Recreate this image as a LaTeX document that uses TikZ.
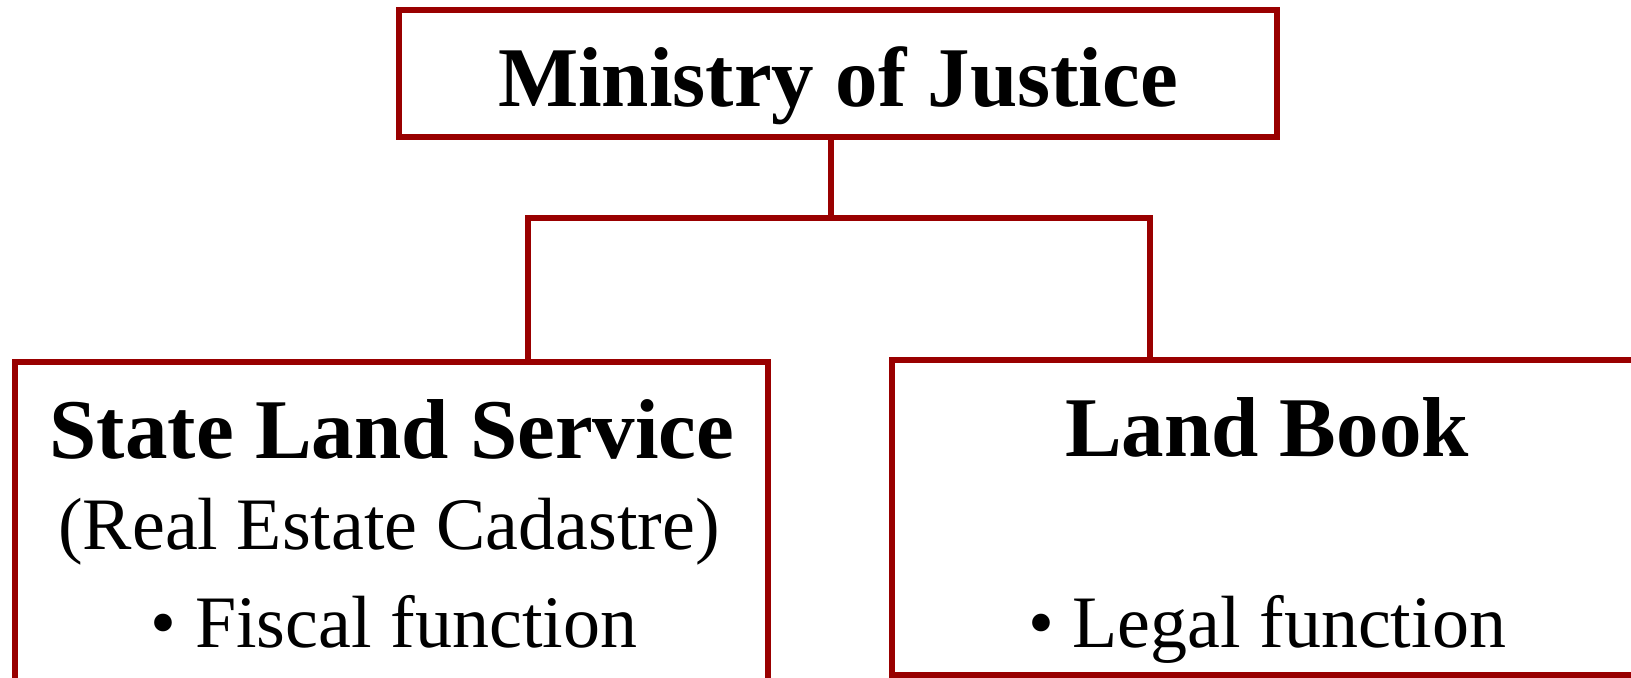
\documentclass[tikz,border=0pt]{standalone}
\usepackage{fontspec}
\setmainfont{Liberation Serif}
\definecolor{jred}{RGB}{153,0,0}
\tikzset{
  box/.style={draw=jred, line width=4.5pt, fill=white, inner sep=0pt, rectangle},
  conn/.style={draw=jred, line width=4.5pt},
  bigtxt/.style={anchor=base, inner sep=0pt, font=\fontsize{63.75}{76}\selectfont\bfseries},
  smalltxt/.style={anchor=base, inner sep=0pt, font=\fontsize{55.5}{66}\selectfont},
}
\begin{document}
\begin{tikzpicture}[x=0.75pt, y=-0.75pt]
\useasboundingbox (0,0) rectangle (1631,678);
\clip (0,0) rectangle (1631,678);
\fill[white] (0,0) rectangle (1631,678);
% boxes
\node[box, minimum width=878*0.75pt, minimum height=127*0.75pt] (top) at (838,73.5) {};
\node[box, minimum width=753*0.75pt, minimum height=339*0.75pt] (left) at (391.5,531.5) {};
\node[box, minimum width=750*0.75pt, minimum height=315*0.75pt] (right) at (1267,517.5) {};
% connector points
\coordinate (bar) at (831,218);
\coordinate (lx) at (527.5,0);
\coordinate (rx) at (1150,0);
\draw[conn] (bar |- top.south) -- (bar);
\draw[conn] (left.north -| lx) |- (bar) -| (right.north -| rx);
% texts
\node[bigtxt] (t1) at (838,106) {Ministry of Justice};
\node[bigtxt] (t2) at (392,458) {State Land Service};
\node[smalltxt] (t3) at (389,549) {(Real Estate Cadastre)};
\node[smalltxt] (t4) at (394,647) {• Fiscal function};
\node[bigtxt] (t5) at (1267,456) {Land Book};
\node[smalltxt] (t6) at (1267,647) {• Legal function};
\end{tikzpicture}
\end{document}
